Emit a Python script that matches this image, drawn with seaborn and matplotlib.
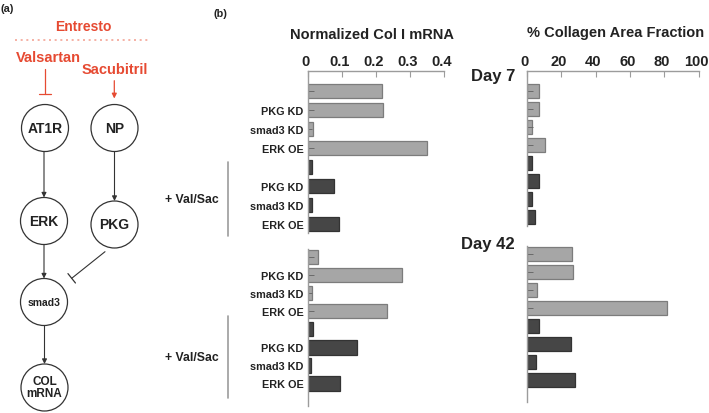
import numpy as np
import pandas as pd
import seaborn as sns
import matplotlib.pyplot as plt
from matplotlib.patches import Circle
from matplotlib.transforms import ScaledTranslation

# 数据
row_labels = ["", "PKG KD", "smad3 KD", "ERK OE", "", "PKG KD", "smad3 KD", "ERK OE"]

mrna_d7_ctrl = [0.216, 0.220, 0.013, 0.348]
mrna_d7_valsac = [0.012, 0.076, 0.012, 0.090]
mrna_d42_ctrl = [0.028, 0.275, 0.012, 0.231]
mrna_d42_valsac = [0.013, 0.143, 0.009, 0.093]

coll_d7_ctrl = [6.8, 7.2, 3.1, 10.7]
coll_d7_valsac = [3.1, 7.2, 3.1, 4.7]
coll_d42_ctrl = [26.5, 26.7, 5.6, 81.5]
coll_d42_valsac = [7.2, 25.7, 5.2, 28.2]

# 误差线（只画了上半部分，从 0 开始的小短线）
mrna_err = [0.017, 0.017, 0.010, 0.017]
coll_err = [3.3, 3.3, 3.3, 3.3]

mrna_ticks = [0, 0.1, 0.2, 0.3, 0.4]
coll_ticks = [0, 20, 40, 60, 80, 100]

RED = "#e64a32"
LIGHT, LIGHT_EDGE = "#a6a6a6", "#7c7c7c"
DARK, DARK_EDGE = "#464646", "#333333"
GREY = "#9c9c9c"

sns.set_theme(style="white")
plt.rcParams['font.family'] = ['Liberation Sans', 'DejaVu Sans']
plt.rcParams['font.weight'] = 'bold'

W, H = 709, 414
fig = plt.figure(figsize=(W / 100, H / 100), dpi=100)


def px_axes(x0, y0, x1, y1):
    return fig.add_axes([x0 / W, 1 - y1 / H, (x1 - x0) / W, (y1 - y0) / H])


def make_df(ctrl, valsac):
    return pd.DataFrame({
        'row': list(range(8)),
        'value': list(ctrl) + list(valsac),
        'treat': ['ctrl'] * 4 + ['valsac'] * 4,
    })


def bar_panel(ax, ctrl, valsac, err, xmax, ylim, width, show_labels, top_axis, ticks):
    df = make_df(ctrl, valsac)
    sns.barplot(data=df, x='value', y='row', hue='treat', orient='h', dodge=False,
                palette={'ctrl': LIGHT, 'valsac': DARK}, width=width, legend=False,
                linewidth=0.9, ax=ax)
    for p in ax.patches:
        fc = p.get_facecolor()
        p.set_edgecolor(LIGHT_EDGE if fc[0] > 0.5 else DARK_EDGE)
    # 小误差线
    ax.errorbar(x=np.zeros(4), y=np.arange(4), xerr=[np.zeros(4), err], fmt='none',
                ecolor='#6a6a6a', elinewidth=0.7, capsize=0)
    ax.set_xlim(0, xmax)
    ax.set_ylim(*ylim)
    ax.set_xlabel('')
    ax.set_ylabel('')
    for s in ['right', 'bottom']:
        ax.spines[s].set_visible(False)
    ax.spines['left'].set_color(GREY)
    ax.spines['left'].set_linewidth(1.0)
    if top_axis:
        ax.spines['top'].set_color(GREY)
        ax.spines['top'].set_linewidth(1.0)
        ax.xaxis.tick_top()
        ax.set_xticks(ticks)
        ax.set_xticklabels([f"{t:g}" for t in ticks], fontsize=10.5, fontweight='bold', color='#222')
        ax.tick_params(axis='x', direction='in', length=4, color=GREY, width=0.8, pad=2.5)
        shift = ScaledTranslation(-2.5 / 100, 0, fig.dpi_scale_trans)
        for lab in ax.get_xticklabels():
            lab.set_transform(lab.get_transform() + shift)
    else:
        ax.spines['top'].set_visible(False)
        ax.set_xticks([])
    ax.set_yticks(range(8))
    if show_labels:
        ax.set_yticklabels(row_labels, fontsize=7.8, fontweight='bold', color='#222')
    else:
        ax.set_yticklabels([])
    ax.tick_params(axis='y', length=0, pad=3.5)
    ax.set_facecolor('none')


ax_l7 = px_axes(308.3, 72, 444.3, 234)
bar_panel(ax_l7, mrna_d7_ctrl, mrna_d7_valsac, mrna_err, 0.4, (7.48, -1.05), 0.74, True, True, mrna_ticks)

ax_r7 = px_axes(527, 72, 698.6, 226.6)
bar_panel(ax_r7, coll_d7_ctrl, coll_d7_valsac, coll_err, 100, (7.45, -1.08), 0.77, False, True, coll_ticks)

ax_l42 = px_axes(308.3, 250, 444.3, 406.7)
bar_panel(ax_l42, mrna_d42_ctrl, mrna_d42_valsac, mrna_err, 0.4, (8.23, -0.44), 0.8, True, False, mrna_ticks)

ax_r42 = px_axes(527, 246.7, 698.6, 402.7)
bar_panel(ax_r42, coll_d42_ctrl, coll_d42_valsac, coll_err, 100, (8.19, -0.46), 0.8, False, False, coll_ticks)

# 叠加一个全图坐标系，用像素坐标画文字和示意图
ov = fig.add_axes([0, 0, 1, 1], zorder=-1)
ov.set_xlim(0, W)
ov.set_ylim(H, 0)
ov.axis('off')

ov.text(7, 9, "(a)", fontsize=7.8, fontweight='bold', ha='center', va='center', color='#222')
ov.text(220, 14, "(b)", fontsize=7.8, fontweight='bold', ha='center', va='center', color='#222')

ov.text(372.5, 35, "Normalized Col I mRNA", fontsize=10.5, fontweight='bold', ha='center', va='center', color='#222')
ov.text(616, 33, "% Collagen Area Fraction", fontsize=10.5, fontweight='bold', ha='center', va='center', color='#222')
ov.text(515, 77, "Day 7", fontsize=12, fontweight='bold', ha='right', va='center', color='#222')
ov.text(515, 245, "Day 42", fontsize=12, fontweight='bold', ha='right', va='center', color='#222')

# + Val/Sac 分组
for ty, (l0, l1) in [(200, (163, 237)), (358, (317, 399))]:
    ov.text(192, ty, "+ Val/Sac", fontsize=8.8, fontweight='bold', ha='center', va='center', color='#222')
    ov.plot([228, 228], [l0, l1], color=GREY, lw=1.2)

# 示意图 (a)
ov.text(83, 27, "Entresto", fontsize=10, fontweight='bold', color=RED, ha='center', va='center')
ov.plot([15, 148], [40.7, 40.7], color="#f3a496", lw=1.2, ls=(0, (1.2, 2.2)))
ov.text(48, 58, "Valsartan", fontsize=10.5, fontweight='bold', color=RED, ha='center', va='center')
ov.text(115, 70, "Sacubitril", fontsize=10.5, fontweight='bold', color=RED, ha='center', va='center')
ov.plot([45, 45], [70, 95], color=RED, lw=0.9)
ov.plot([39, 51], [95, 95], color=RED, lw=0.9)
ov.annotate("", xy=(114.3, 99.5), xytext=(114.3, 81.7),
            arrowprops=dict(arrowstyle='-|>', color=RED, lw=0.9, mutation_scale=7, shrinkA=0, shrinkB=0))

R = 23.5
nodes = {
    'AT1R': ((45, 129), 10),
    'NP': ((114.5, 129), 10),
    'ERK': ((44, 222), 10),
    'PKG': ((114.5, 225.5), 10),
    'smad3': ((44, 303), 7.5),
    'COL\nmRNA': ((44.5, 388.5), 8.5),
}
for name, ((cx, cy), fs) in nodes.items():
    ov.add_patch(Circle((cx, cy), R, facecolor='white', edgecolor='#333', lw=0.9))
    ov.text(cx, cy, name, fontsize=fs, fontweight='bold', ha='center', va='center',
            color='#222', linespacing=1.0)

edges = [('AT1R', 'ERK'), ('NP', 'PKG'), ('ERK', 'smad3'), ('smad3', 'COL\nmRNA')]
for a, b in edges:
    (ax_, ay), _ = nodes[a]
    (bx, by), _ = nodes[b]
    ov.annotate("", xy=(bx, by - R), xytext=(bx, ay + R),
                arrowprops=dict(arrowstyle='-|>', color='#333', lw=0.8, mutation_scale=7,
                                shrinkA=0, shrinkB=0))

# PKG 抑制 smad3
p0 = np.array([105.0, 252.7])
p1 = np.array([71.7, 279.3])
ov.plot([p0[0], p1[0]], [p0[1], p1[1]], color='#333', lw=0.8)
d = (p1 - p0) / np.linalg.norm(p1 - p0)
n = np.array([-d[1], d[0]]) * 6
ov.plot([p1[0] - n[0], p1[0] + n[0]], [p1[1] - n[1], p1[1] + n[1]], color='#333', lw=0.9)

plt.savefig('out.png', dpi=100)
